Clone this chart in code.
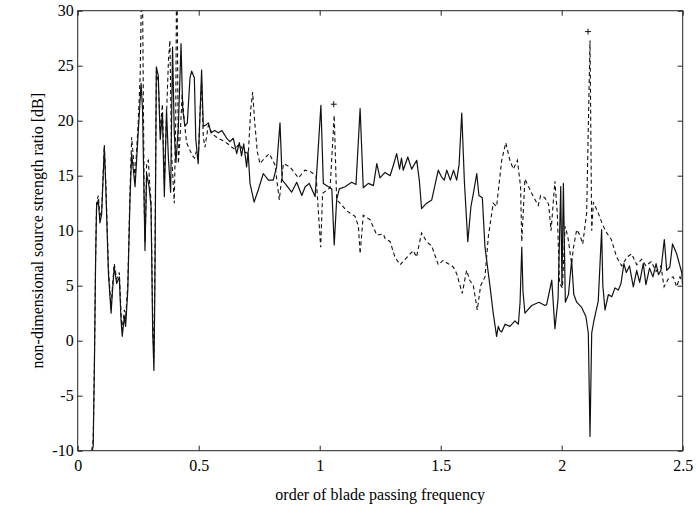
<!DOCTYPE html>
<html>
<head>
<meta charset="utf-8">
<script src="https://cdn.jsdelivr.net/npm/d3@7"></script>
<style>
  body { margin: 0; background: #fff; }
  text { font-family: "Liberation Serif", "DejaVu Serif", serif; fill: #000; }
</style>
</head>
<body>
<div id="wrapper"></div>
<script>
// data: [order of BPF, ratio in dB]
const solidSeries = [
  [0.060,-10],[0.064,-9.6],[0.069,-2.4],[0.074,7.3],[0.078,12.2],[0.085,12.8],[0.092,10.7],[0.099,11.5],
  [0.110,17.6],[0.116,14],[0.127,6.1],[0.138,2.5],[0.143,4.3],[0.151,6.7],[0.161,5.2],[0.172,5.8],
  [0.179,1.9],[0.184,0.4],[0.193,2.2],[0.198,1.3],[0.207,4.6],[0.216,12.8],[0.223,17.0],[0.237,14],
  [0.250,18.9],[0.262,23.4],[0.268,21],[0.278,8.2],[0.285,15.2],[0.295,14],[0.303,12.2],[0.310,0.7],
  [0.315,-2.7],[0.319,5],[0.325,24.9],[0.333,24.1],[0.341,18.3],[0.350,20.7],[0.358,13.1],[0.367,21],
  [0.375,16.5],[0.384,13.5],[0.392,26.7],[0.399,18.9],[0.406,16.2],[0.416,19.5],[0.427,27.0],[0.434,21],
  [0.443,19.5],[0.453,19.8],[0.464,23.9],[0.471,24.5],[0.482,23.9],[0.488,18.3],[0.498,16.1],[0.506,20.9],
  [0.512,24.6],[0.519,19.5],[0.529,19.6],[0.540,19.8],[0.551,18.9],[0.566,19.1],[0.581,18.9],[0.596,19.1],
  [0.616,18.4],[0.629,18.1],[0.643,18.4],[0.657,17.0],[0.668,18],[0.677,16.8],[0.686,17.9],[0.698,15.8],
  [0.704,17.2],[0.712,14.3],[0.729,12.6],[0.746,13.7],[0.767,15.2],[0.788,14.6],[0.808,14.6],[0.822,15.8],
  [0.836,19.8],[0.845,14.6],[0.864,14.1],[0.884,13.5],[0.905,14.4],[0.926,13.2],[0.940,14.0],[0.957,14.3],
  [0.981,13.1],[0.990,16.1],[1.005,21.4],[1.015,14.3],[1.036,14.0],[1.050,13.8],[1.060,8.7],[1.070,12.8],
  [1.081,13.8],[1.105,14.0],[1.132,14.4],[1.150,14.2],[1.167,21.1],[1.180,13.9],[1.201,14.3],[1.222,14.1],
  [1.236,16.1],[1.249,14.8],[1.270,15.3],[1.291,15.0],[1.305,16.0],[1.318,17.0],[1.330,15.6],[1.338,16.6],
  [1.345,15.5],[1.364,16.7],[1.380,15.6],[1.401,16.4],[1.412,14.5],[1.421,12.0],[1.442,12.5],[1.463,12.8],
  [1.490,15.5],[1.503,14.9],[1.515,14.6],[1.525,15.5],[1.540,14.6],[1.553,15.5],[1.566,14.6],[1.576,16.0],
  [1.587,20.7],[1.598,14.4],[1.612,9.0],[1.625,12.2],[1.635,13.4],[1.649,15.2],[1.658,13.2],[1.672,13.0],
  [1.683,8.5],[1.704,4.9],[1.717,2.5],[1.731,0.4],[1.738,1.3],[1.745,0.9],[1.752,0.8],[1.766,1.5],
  [1.786,1.3],[1.807,1.8],[1.821,1.5],[1.828,3.5],[1.835,8.5],[1.840,4.5],[1.848,2.5],[1.876,3.2],
  [1.906,3.5],[1.931,3.2],[1.938,3.3],[1.959,5.5],[1.972,1.1],[1.985,3.8],[1.996,14.0],[2.001,5],
  [2.007,14.3],[2.015,3.5],[2.028,4.2],[2.041,7.3],[2.050,4.2],[2.062,3.5],[2.083,3.0],[2.100,2.2],
  [2.110,0.7],[2.117,-8.7],[2.124,0.7],[2.133,1.8],[2.151,3.6],[2.165,10.1],[2.170,5],[2.179,2.8],
  [2.193,4.2],[2.207,4.0],[2.220,4.8],[2.234,4.6],[2.245,5.2],[2.257,7.0],[2.267,6.2],[2.280,6.8],
  [2.296,4.9],[2.310,6.4],[2.322,5.3],[2.337,7.0],[2.348,5.1],[2.363,6.6],[2.377,5.8],[2.390,7.0],
  [2.400,6.0],[2.410,6.4],[2.424,9.2],[2.434,6.4],[2.447,6.7],[2.458,8.8],[2.475,7.9],[2.496,6.2],[2.5,5.0]
];

const dashedSeries = [
  [0.058,-10],[0.064,-9],[0.069,-2],[0.074,7.5],[0.078,12.5],[0.085,13.2],[0.092,11.2],[0.099,11.8],
  [0.110,17.8],[0.116,14.5],[0.127,6.6],[0.138,2.9],[0.143,4.7],[0.151,7.0],[0.161,5.6],[0.172,6.2],
  [0.179,2.5],[0.184,1.0],[0.193,2.8],[0.198,2.0],[0.207,5.2],[0.216,13.5],[0.223,18.5],[0.237,14.8],
  [0.250,19.8],[0.258,24],[0.263,31],[0.268,31],[0.275,12],[0.279,9],[0.285,16.2],[0.292,16.4],
  [0.298,14],[0.303,12.8],[0.310,1.5],[0.315,-1.5],[0.319,7],[0.325,24.5],[0.333,23.5],[0.341,19],
  [0.350,21.5],[0.358,14.2],[0.367,20.5],[0.375,25.5],[0.381,27.3],[0.388,17],[0.399,12.5],[0.405,20],
  [0.408,31],[0.411,31],[0.416,16.1],[0.423,18.5],[0.432,22.5],[0.440,20],[0.450,18],[0.464,17.3],
  [0.475,16.8],[0.483,16.6],[0.490,17.2],[0.498,16.4],[0.505,20.5],[0.512,23.5],[0.519,18.5],[0.526,17.6],
  [0.540,19.6],[0.556,18.8],[0.580,18.4],[0.600,18.2],[0.620,17.9],[0.636,17.6],[0.650,17.4],[0.668,17.9],
  [0.686,17.2],[0.705,17.0],[0.715,21],[0.723,22.6],[0.731,20],[0.742,17.2],[0.753,16.1],[0.772,16.6],
  [0.792,17.0],[0.815,16.0],[0.833,12.8],[0.850,16.1],[0.877,15.8],[0.912,14.8],[0.939,15.5],[0.960,15.4],
  [0.985,15.0],[1.004,8.5],[1.012,13.4],[1.043,13.9],[1.060,20.5],[1.070,12.8],[1.084,12.5],[1.112,11.8],
  [1.146,11.3],[1.160,10.4],[1.167,7.9],[1.180,11.4],[1.208,11.0],[1.236,9.6],[1.263,9.7],[1.270,9.3],
  [1.291,9.0],[1.311,7.6],[1.332,6.9],[1.353,7.4],[1.370,7.8],[1.387,8.2],[1.400,7.6],[1.421,9.8],
  [1.442,9.0],[1.463,8.6],[1.490,6.9],[1.510,7.3],[1.531,7.0],[1.552,6.7],[1.566,6.1],[1.589,4.3],
  [1.607,6.4],[1.620,5.5],[1.635,5.0],[1.651,2.8],[1.665,5.0],[1.683,5.8],[1.697,9.5],[1.717,12.5],
  [1.731,12.2],[1.752,16.4],[1.769,18.0],[1.786,16.4],[1.800,15.6],[1.817,16.4],[1.830,14.0],[1.835,9.0],
  [1.848,14.7],[1.876,13.4],[1.903,12.3],[1.913,13.2],[1.930,13.0],[1.946,12.4],[1.956,10],[1.972,14.5],
  [1.982,11.5],[1.991,5.2],[2.003,4.8],[2.014,10.4],[2.025,9.5],[2.041,7.0],[2.048,8.4],[2.062,10.1],
  [2.075,9.6],[2.087,8.8],[2.103,11.6],[2.117,27.3],[2.124,10.0],[2.131,12.6],[2.151,11.6],[2.170,10.5],
  [2.186,9.8],[2.205,9.2],[2.227,7.6],[2.248,6.8],[2.270,7.6],[2.289,7.9],[2.310,6.9],[2.330,7.4],
  [2.348,6.8],[2.370,7.2],[2.390,6.3],[2.410,6.8],[2.423,4.9],[2.440,5.6],[2.461,5.8],[2.475,4.9],
  [2.489,5.8],[2.5,5.2]
];

// the two "+" marks above the dashed peaks
const peakMarks = [[1.058, 21.5], [2.109, 28.1]];

const xTicks = [0, 0.5, 1, 1.5, 2, 2.5];
const xTickLabels = ["0", "0.5", "1", "1.5", "2", "2.5"];
const yTicks = [-10, -5, 0, 5, 10, 15, 20, 25, 30];
const yTickLabels = ["-10", "-5", "0", "5", "10", "15", "20", "25", "30"];

async function drawChart() {
  // 1. Access data
  const xAccessor = (d) => d[0];
  const yAccessor = (d) => d[1];

  // 2. Create chart dimensions
  let dimensions = {
    width: 696,
    height: 515,
    margin: {
      top: 10.7,
      right: 13.3,
      bottom: 64.3,
      left: 77.7,
    },
  };
  dimensions.boundedWidth =
    dimensions.width - dimensions.margin.left - dimensions.margin.right;
  dimensions.boundedHeight =
    dimensions.height - dimensions.margin.top - dimensions.margin.bottom;

  // 3. Draw canvas
  const wrapper = d3
    .select("#wrapper")
    .append("svg")
    .attr("width", dimensions.width)
    .attr("height", dimensions.height);

  const bounds = wrapper
    .append("g")
    .attr(
      "transform",
      `translate(${dimensions.margin.left}, ${dimensions.margin.top})`
    );

  bounds
    .append("defs")
    .append("clipPath")
    .attr("id", "plot-clip")
    .append("rect")
    .attr("width", dimensions.boundedWidth)
    .attr("height", dimensions.boundedHeight);

  // 4. Create scales
  const xScale = d3
    .scaleLinear()
    .domain([0, 2.5])
    .range([0, dimensions.boundedWidth]);

  const yScale = d3
    .scaleLinear()
    .domain([-10, 30])
    .range([dimensions.boundedHeight, 0]);

  // 5. Draw data
  const lineGenerator = d3
    .line()
    .x((d) => xScale(xAccessor(d)))
    .y((d) => yScale(yAccessor(d)));

  const lines = bounds.append("g").attr("clip-path", "url(#plot-clip)");

  lines
    .append("path")
    .attr("d", lineGenerator(dashedSeries))
    .attr("fill", "none")
    .attr("stroke", "#111")
    .attr("stroke-width", 1.1)
    .attr("stroke-dasharray", "4,3");

  lines
    .append("path")
    .attr("d", lineGenerator(solidSeries))
    .attr("fill", "none")
    .attr("stroke", "#111")
    .attr("stroke-width", 1.2)
    .attr("stroke-linejoin", "round");

  //plus marks
  const marks = bounds
    .append("g")
    .selectAll("path")
    .data(peakMarks)
    .join("path")
    .attr(
      "d",
      (d) =>
        `M${xScale(xAccessor(d)) - 3},${yScale(yAccessor(d))}h6` +
        `M${xScale(xAccessor(d))},${yScale(yAccessor(d)) - 3}v6`
    )
    .attr("stroke", "#111")
    .attr("stroke-width", 1);

  // 6. Draw peripherals
  const fmtX = (d) => xTickLabels[xTicks.indexOf(d)];
  const fmtY = (d) => yTickLabels[yTicks.indexOf(d)];

  const xAxis = bounds
    .append("g")
    .attr("transform", `translate(0, ${dimensions.boundedHeight})`)
    .call(
      d3
        .axisBottom(xScale)
        .tickValues(xTicks)
        .tickFormat(fmtX)
        .tickSizeInner(-5)
        .tickSizeOuter(0)
        .tickPadding(9)
    );

  const yAxis = bounds.append("g").call(
    d3
      .axisLeft(yScale)
      .tickValues(yTicks)
      .tickFormat(fmtY)
      .tickSizeInner(-5)
      .tickSizeOuter(0)
      .tickPadding(4)
  );

  const topAxis = bounds.append("g").call(
    d3
      .axisTop(xScale)
      .tickValues(xTicks)
      .tickFormat("")
      .tickSizeInner(-5)
      .tickSizeOuter(0)
  );

  const rightAxis = bounds
    .append("g")
    .attr("transform", `translate(${dimensions.boundedWidth}, 0)`)
    .call(
      d3
        .axisRight(yScale)
        .tickValues(yTicks)
        .tickFormat("")
        .tickSizeInner(-5)
        .tickSizeOuter(0)
    );

  [xAxis, yAxis, topAxis, rightAxis].forEach((ax) => {
    ax.select(".domain").remove();
    ax.selectAll("line").attr("stroke", "#222");
    ax.selectAll("text")
      .style("font-family", '"Liberation Serif", serif')
      .style("font-size", "16px")
      .attr("fill", "#000");
  });

  //frame
  bounds
    .append("rect")
    .attr("width", dimensions.boundedWidth)
    .attr("height", dimensions.boundedHeight)
    .attr("fill", "none")
    .attr("stroke", "#222")
    .attr("stroke-width", 1);

  //axis titles
  wrapper
    .append("text")
    .attr("x", dimensions.margin.left + dimensions.boundedWidth / 2)
    .attr("y", 500)
    .attr("text-anchor", "middle")
    .style("font-size", "16px")
    .text("order of blade passing frequency");

  wrapper
    .append("text")
    .attr(
      "transform",
      `translate(43, ${dimensions.margin.top + dimensions.boundedHeight / 2}) rotate(-90)`
    )
    .attr("text-anchor", "middle")
    .style("font-size", "16px")
    .text("non-dimensional source strength ratio [dB]");
}
drawChart();
</script>
</body>
</html>
